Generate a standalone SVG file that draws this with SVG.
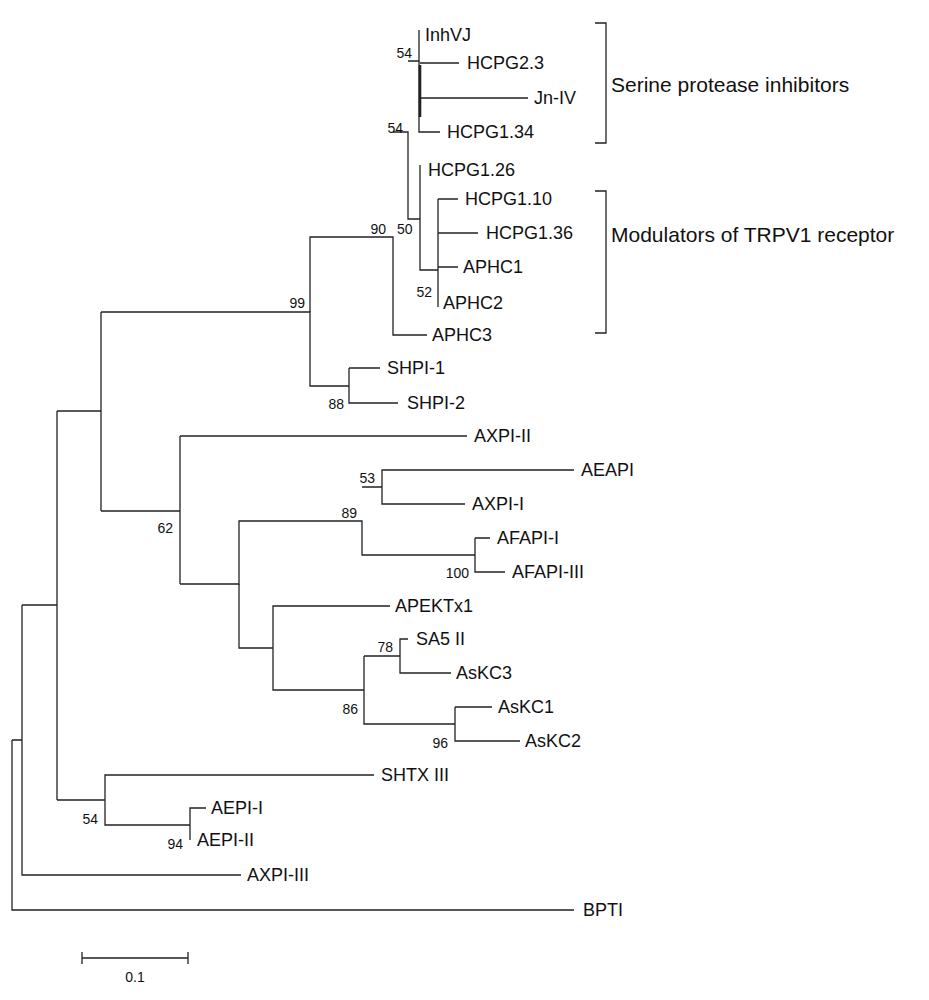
<svg xmlns="http://www.w3.org/2000/svg" width="929" height="1000" viewBox="0 0 929 1000">
<style>
.e{fill:none;stroke:#222;stroke-width:1.3}
.t{font-family:"Liberation Sans",Arial,sans-serif;font-size:18px;fill:#111}
.b{font-family:"Liberation Sans",Arial,sans-serif;font-size:14px;fill:#111;text-anchor:end}
.h{font-family:"Liberation Sans",Arial,sans-serif;font-size:21px;fill:#111}
</style>
<rect width="929" height="1000" fill="#fff"/>
<g id="connectors" class="e">
<path d="M12,740V910H574"/>
<path d="M12,740H22M22,605V875H241"/>
<path d="M22,605H57M57,411V800"/>
<path d="M57,411H101M101,312V511"/>
<path d="M101,312H310V386H349"/>
<path d="M349,368V403H398M349,368H380"/>
<path d="M310,312V237H393V335H427"/>
<path d="M393,132H408V219H420"/>
<path d="M408,61H419V30"/>
<path d="M419,61V132H440"/>
<path d="M420,63H459M421,98H528"/>
<path d="M420,65V117" style="stroke-width:2.6"/>
<path d="M420,165V270H438"/>
<path d="M438,199V307M438,199H458M438,233H478M438,267H458"/>
<path d="M101,511H180M180,436V584"/>
<path d="M180,436H467"/>
<path d="M180,584H239V521H362V555H475"/>
<path d="M362,487H382V470H574M382,487V504H465"/>
<path d="M475,538V572H505M475,538H490"/>
<path d="M239,584V648H273V606H390M273,648V690H364"/>
<path d="M364,656V724H455M364,656H400V639H408M400,656V673H451"/>
<path d="M455,707V741H520M455,707H492"/>
<path d="M57,800H105V775H374M105,800V825H190V808H206M190,825V840"/>
<path d="M595,23H606V143H595M595,191H606V333H595"/>
<path d="M82,958H188M82,952V964M188,952V964"/>
</g>
<g id="leaves" class="t">
<text x="425" y="41">InhVJ</text>
<text x="467" y="69">HCPG2.3</text>
<text x="534" y="104">Jn-IV</text>
<text x="447" y="138">HCPG1.34</text>
<text x="428" y="176">HCPG1.26</text>
<text x="465" y="205">HCPG1.10</text>
<text x="486" y="239">HCPG1.36</text>
<text x="463" y="273">APHC1</text>
<text x="443" y="309">APHC2</text>
<text x="432" y="341">APHC3</text>
<text x="387" y="374">SHPI-1</text>
<text x="407" y="409">SHPI-2</text>
<text x="474" y="442">AXPI-II</text>
<text x="581" y="476">AEAPI</text>
<text x="472" y="510">AXPI-I</text>
<text x="497" y="544">AFAPI-I</text>
<text x="512" y="578">AFAPI-III</text>
<text x="395" y="612">APEKTx1</text>
<text x="416" y="645">SA5 II</text>
<text x="456" y="679">AsKC3</text>
<text x="498" y="713">AsKC1</text>
<text x="525" y="747">AsKC2</text>
<text x="381" y="781">SHTX III</text>
<text x="211" y="814">AEPI-I</text>
<text x="197" y="846">AEPI-II</text>
<text x="247" y="881">AXPI-III</text>
<text x="583" y="916">BPTI</text>
</g>
<g id="bootstrap" class="b">
<text x="412" y="58">54</text>
<text x="403" y="133">54</text>
<text x="386" y="234">90</text>
<text x="397" y="234" style="text-anchor:start">50</text>
<text x="432" y="297">52</text>
<text x="305" y="308">99</text>
<text x="344" y="409">88</text>
<text x="173" y="533">62</text>
<text x="375" y="483">53</text>
<text x="357" y="518">89</text>
<text x="469" y="578">100</text>
<text x="393" y="652">78</text>
<text x="358" y="714">86</text>
<text x="448" y="748">96</text>
<text x="98" y="824">54</text>
<text x="183" y="849">94</text>
<text x="135" y="982" style="text-anchor:middle">0.1</text>
</g>
<g id="groups" class="h">
<text x="611" y="92">Serine protease inhibitors</text>
<text x="611" y="242">Modulators of TRPV1 receptor</text>
</g>
</svg>
